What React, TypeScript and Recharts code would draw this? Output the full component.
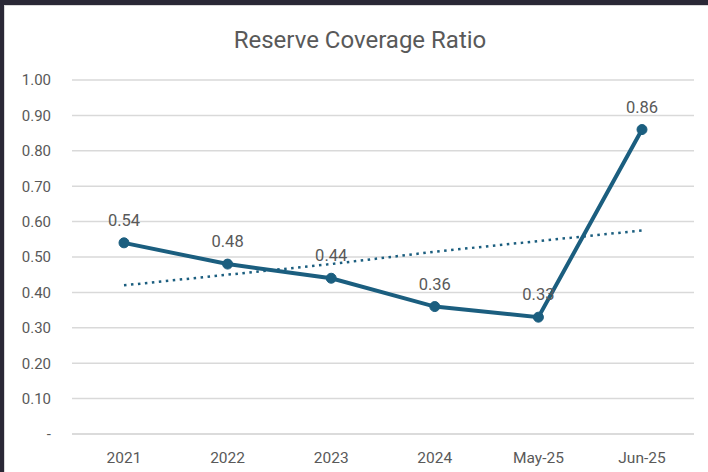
import React from "react";
import { LineChart, Line, XAxis, YAxis, CartesianGrid, LabelList } from "recharts";

const categories = ["2021", "2022", "2023", "2024", "May-25", "Jun-25"];
const ratioValues = [0.54, 0.48, 0.44, 0.36, 0.33, 0.86];
const trendValues = [0.42, 0.45, 0.48, 0.515, 0.545, 0.575];
const yTicks = [0, 0.1, 0.2, 0.3, 0.4, 0.5, 0.6, 0.7, 0.8, 0.9, 1.0];

const data = categories.map((c, i) => ({ name: c, ratio: ratioValues[i], trend: trendValues[i] }));

const LINE = "#1b5e7f";
const TEXT = "#595959";
const FONT = "Roboto, 'Liberation Sans', sans-serif";

export default function App() {
  return (
    <div style={{ position: "absolute", left: 0, top: 0, width: 708, height: 472, background: "#2a2836", overflow: "hidden" }}>
      <div style={{ position: "absolute", left: 4, top: 5, width: 704, height: 467, background: "#d9d9d9" }} />
      <div style={{ position: "absolute", left: 5, top: 6, width: 703, height: 466, background: "#ffffff" }} />
      <div
        style={{
          position: "absolute",
          left: 0,
          top: 24,
          width: 720,
          textAlign: "center",
          fontFamily: FONT,
          fontSize: 24,
          color: TEXT,
          lineHeight: "32px",
        }}
      >
        Reserve Coverage Ratio
      </div>
      <div style={{ position: "absolute", left: 0, top: 0 }}>
        <LineChart width={708} height={472} data={data} margin={{ top: 80, right: 14, bottom: 0, left: 0 }}>
          <CartesianGrid vertical={false} stroke="#d9d9d9" strokeWidth={1.5} />
          <XAxis
            dataKey="name"
            axisLine={{ stroke: "#d9d9d9", strokeWidth: 1.5 }}
            tickLine={false}
            tickSize={0}
            tickMargin={18}
            height={38}
            padding={{ left: 52, right: 52 }}
            interval={0}
            tick={{ fill: TEXT, fontSize: 15.5, fontFamily: FONT }}
          />
          <YAxis
            domain={[0, 1]}
            ticks={yTicks}
            width={72}
            axisLine={false}
            tickLine={false}
            tickSize={0}
            tickMargin={21}
            interval={0}
            tickFormatter={(v: number) => (v === 0 ? "-" : v.toFixed(2))}
            tick={{ fill: TEXT, fontSize: 15, fontFamily: FONT }}
          />
          <Line
            dataKey="trend"
            stroke={LINE}
            strokeWidth={2.5}
            strokeDasharray="2.5 4.5"
            dot={false}
            activeDot={false}
            isAnimationActive={false}
          />
          <Line
            dataKey="ratio"
            stroke={LINE}
            strokeWidth={4}
            dot={{ r: 5, fill: LINE, stroke: LINE, strokeWidth: 1 }}
            activeDot={false}
            isAnimationActive={false}
          >
            <LabelList
              dataKey="ratio"
              position="top"
              offset={17}
              formatter={(v: number) => v.toFixed(2)}
              style={{ fill: TEXT, fontSize: 16.5, fontFamily: FONT }}
            />
          </Line>
        </LineChart>
      </div>
    </div>
  );
}
